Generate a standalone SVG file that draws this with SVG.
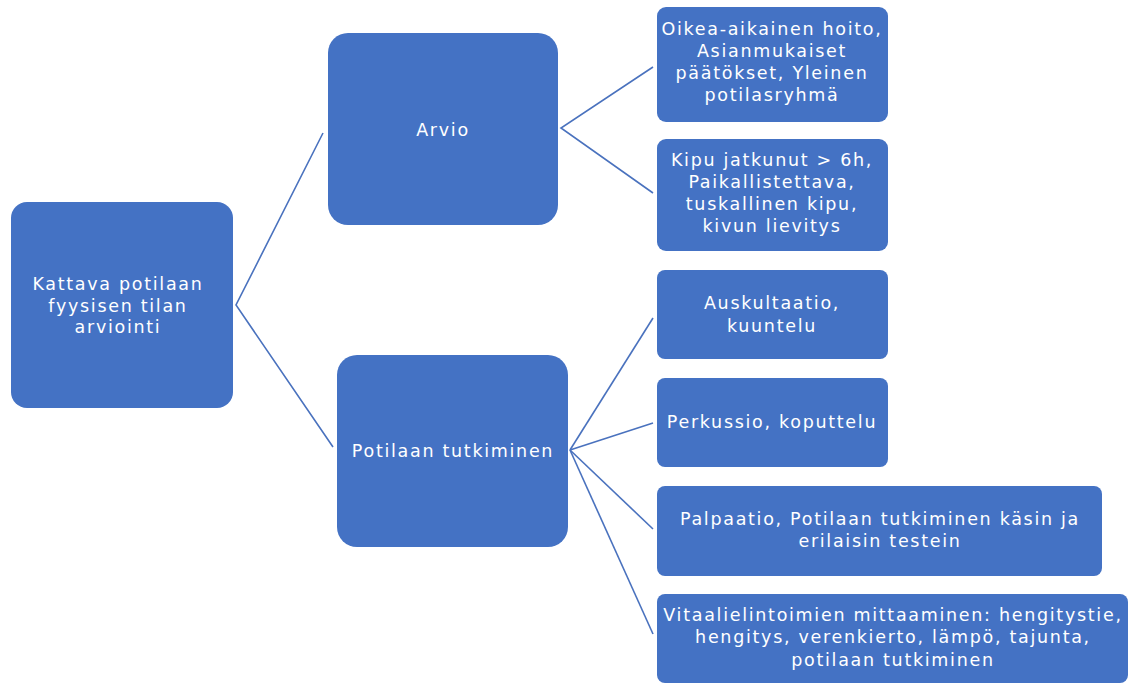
<svg xmlns="http://www.w3.org/2000/svg" width="1132" height="684" viewBox="0 0 1132 684">
<style>
.box{fill:#4472C4;}
.t{font-family:"DejaVu Sans","Liberation Sans",sans-serif;font-size:17.5px;fill:#FFFFFF;text-anchor:middle;letter-spacing:1.7px;}
.c{stroke:#4A72BE;stroke-width:1.6;fill:none;}
</style>
<rect width="1132" height="684" fill="#FFFFFF"/>
<g id="connectors">
<polyline class="c" points="323,133 236,305 333,447"/>
<polyline class="c" points="653,67 561,128 653,193"/>
<line class="c" x1="570" y1="450" x2="653" y2="318"/>
<line class="c" x1="570" y1="450" x2="653" y2="423"/>
<line class="c" x1="570" y1="450" x2="653" y2="529"/>
<line class="c" x1="570" y1="450" x2="653" y2="634"/>
</g>
<g id="root">
<rect class="box" x="11" y="202" width="222" height="206" rx="16"/>
<text class="t" x="118" y="290">Kattava potilaan</text>
<text class="t" x="118" y="312">fyysisen tilan</text>
<text class="t" x="118" y="333">arviointi</text>
</g>
<g id="arvio">
<rect class="box" x="328" y="33" width="230" height="192" rx="20"/>
<text class="t" x="443" y="136">Arvio</text>
</g>
<g id="potilaan">
<rect class="box" x="337" y="355" width="231" height="192" rx="20"/>
<text class="t" x="453" y="457">Potilaan tutkiminen</text>
</g>
<g id="oikea">
<rect class="box" x="657" y="7" width="231" height="115" rx="9"/>
<text class="t" x="772" y="35">Oikea-aikainen hoito,</text>
<text class="t" x="772" y="57">Asianmukaiset</text>
<text class="t" x="772" y="79">päätökset, Yleinen</text>
<text class="t" x="772" y="101">potilasryhmä</text>
</g>
<g id="kipu">
<rect class="box" x="657" y="139" width="231" height="112" rx="9"/>
<text class="t" x="772" y="166">Kipu jatkunut &gt; 6h,</text>
<text class="t" x="772" y="188">Paikallistettava,</text>
<text class="t" x="772" y="210">tuskallinen kipu,</text>
<text class="t" x="772" y="232">kivun lievitys</text>
</g>
<g id="auskultaatio">
<rect class="box" x="657" y="270" width="231" height="89" rx="8"/>
<text class="t" x="772" y="309">Auskultaatio,</text>
<text class="t" x="772" y="332">kuuntelu</text>
</g>
<g id="perkussio">
<rect class="box" x="657" y="378" width="231" height="89" rx="8"/>
<text class="t" x="772" y="428">Perkussio, koputtelu</text>
</g>
<g id="palpaatio">
<rect class="box" x="657" y="486" width="445" height="90" rx="8"/>
<text class="t" x="880" y="525">Palpaatio, Potilaan tutkiminen käsin ja</text>
<text class="t" x="880" y="547">erilaisin testein</text>
</g>
<g id="vitaali">
<rect class="box" x="657" y="594" width="471" height="89" rx="8"/>
<text class="t" x="893" y="621">Vitaalielintoimien mittaaminen: hengitystie,</text>
<text class="t" x="893" y="643">hengitys, verenkierto, lämpö, tajunta,</text>
<text class="t" x="893" y="666">potilaan tutkiminen</text>
</g>
</svg>
